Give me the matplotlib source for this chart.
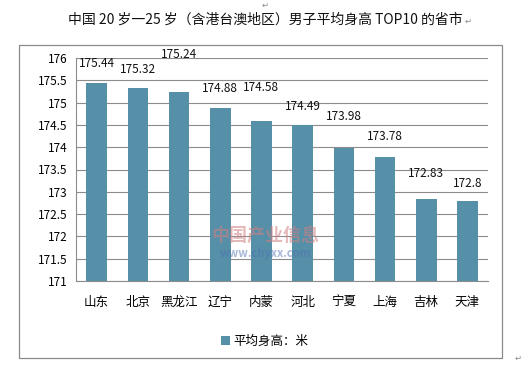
import matplotlib
matplotlib.use("Agg")
import matplotlib.pyplot as plt
from matplotlib.patches import Rectangle

plt.rcParams['font.family'] = ['Noto Sans CJK SC', 'DejaVu Sans']

provinces = ["山东", "北京", "黑龙江", "辽宁", "内蒙", "河北", "宁夏", "上海", "吉林", "天津"]
heights = [175.44, 175.32, 175.24, 174.88, 174.58, 174.49, 173.98, 173.78, 172.83, 172.8]
value_labels = ["175.44", "175.32", "175.24", "174.88", "174.58", "174.49", "173.98", "173.78", "172.83", "172.8"]
yticks = [171, 171.5, 172, 172.5, 173, 173.5, 174, 174.5, 175, 175.5, 176]
ytick_labels = ["171", "171.5", "172", "172.5", "173", "173.5", "174", "174.5", "175", "175.5", "176"]
title = "中国 20 岁一25 岁（含港台澳地区）男子平均身高 TOP10 的省市"
legend_label = "平均身高：米"

label_dy = [9, 9, 22, 9, 20, 9, 18, 10, 14, 8]

bar_color = "#5590A8"
grid_color = "#8C8C8C"

W, H = 530, 368
fig = plt.figure(figsize=(W / 100, H / 100), dpi=100)
fig.patch.set_facecolor("white")

# outer chart frame
fig.patches.append(Rectangle((19 / W, 1 - 358 / H), 483 / W, 313 / H,
                             transform=fig.transFigure, fill=False,
                             edgecolor="#8a8a8a", linewidth=0.9))

ax = fig.add_axes([76 / W, 1 - 281 / H, 412 / W, 223 / H])
x = list(range(len(provinces)))
bars = ax.bar(x, [h - 171 for h in heights], bottom=171, width=0.5,
              color=bar_color, zorder=3, label=legend_label)

ax.set_ylim(171, 176)
ax.set_xlim(-0.5, len(provinces) - 0.5)
ax.set_yticks(yticks)
ax.set_yticklabels(ytick_labels, fontsize=8.5)
ax.set_xticks(x)
ax.set_xticklabels(provinces, fontsize=9)
ax.tick_params(axis='both', length=0, pad=6)
ax.tick_params(axis='x', pad=11)
ax.yaxis.grid(True, color=grid_color, linewidth=0.8, zorder=0)
for s in ["top", "right"]:
    ax.spines[s].set_visible(False)
ax.spines["left"].set_color(grid_color)
ax.spines["bottom"].set_color(grid_color)
ax.spines["left"].set_linewidth(0.8)
ax.spines["bottom"].set_linewidth(0.8)

for xi, h, lab, dy in zip(x, heights, value_labels, label_dy):
    ax.annotate(lab, (xi, h), xytext=(0, dy), textcoords="offset points",
                ha="center", va="bottom", fontsize=8.5, color="#111111",
                zorder=4, annotation_clip=False)

# watermark
fig.text(265 / W, 1 - 236 / H, "中国产业信息", ha="center", va="center",
         fontsize=13, color="#d08080", alpha=0.55, fontweight="bold", zorder=5)
fig.text(265 / W, 1 - 253 / H, "www.chyxx.com", ha="center", va="center",
         fontsize=8, color="#5070b0", alpha=0.5, fontweight="bold", zorder=5)

t = fig.text(265 / W, 1 - 20 / H, title, ha="center", va="center", fontsize=10,
             color="#111111")
fig.canvas.draw()
bb = t.get_window_extent()
fig.text((bb.x1 + 2) / W, 1 - 21 / H, "↵", ha="left", va="center", fontsize=6,
         color="#888888", family=["DejaVu Sans"])

leg = fig.legend(handles=[bars], labels=[legend_label], loc="center",
                 bbox_to_anchor=(265 / W, 1 - 341 / H), frameon=False,
                 fontsize=9, handlelength=0.7, handleheight=0.7,
                 handletextpad=0.3)

fig.text(265 / W, 1 - 5 / H, "↵", ha="center", va="center", fontsize=6,
         color="#888888", family=["DejaVu Sans"])
fig.text(518 / W, 1 - 358 / H, "↵", ha="center", va="center", fontsize=6,
         color="#888888", family=["DejaVu Sans"])

fig.savefig("out.png", dpi=100)
